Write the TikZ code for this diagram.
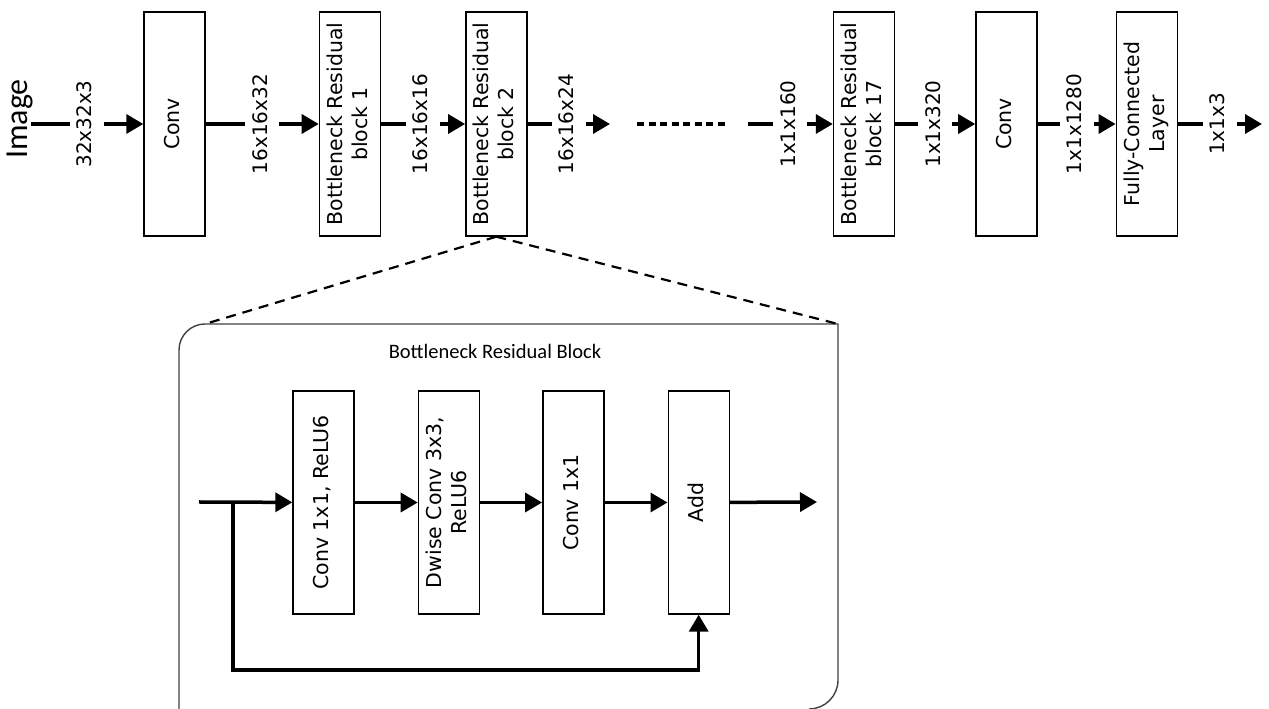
\documentclass[tikz,border=0pt]{standalone}
\usepackage{fontspec}
\setmainfont{DejaVu Sans}
\newfontfamily\calib{Carlito}
\usepackage{graphicx}
\usetikzlibrary{arrows.meta,positioning}
\newcommand{\vlab}[1]{\rotatebox{90}{\begin{tabular}{@{}c@{}}#1\end{tabular}}}

\begin{document}
\begin{tikzpicture}[x=1pt,y=1pt,>={Triangle[length=17pt,width=19pt]},
	every node/.style={font=\fontsize{20.5}{25}\selectfont},
	layer/.style={draw,line width=1.4pt,inner sep=0pt,minimum width=61pt,minimum height=224pt},
	sublayer/.style={layer,minimum height=223pt},
	dim/.style={fill=white,inner sep=5pt,font=\fontsize{20}{24}\selectfont},
	flow/.style={line width=3.5pt},
	zoomline/.style={line width=2.2pt,dash pattern=on 10pt off 7pt}]
		\useasboundingbox (0,0) rectangle (1269,709);

		\node[font=\calib\fontsize{32}{36}\selectfont] (img) at (20,590) {\rotatebox{90}{Image}};
		\coordinate (in0) at (31,585);
		\node[layer] (conv) at (174.5,585) {\vlab{Conv}};
		\node[layer] (brb1) [right=113pt of conv] {\vlab{Bottleneck Residual\\block 1}};
		\node[layer] (brb2) [right=84pt of brb1] {\vlab{Bottleneck Residual\\block 2}};
		\coordinate (out2) at (610,585);
		\coordinate (dot1) at (637,585);
		\coordinate (dot2) at (728,585);
		\coordinate (in17) at (748,585);
		\node[layer] (brb17) at (864,585) {\vlab{Bottleneck Residual\\block 17}};
		\node[layer] (conv2) [right=80pt of brb17] {\vlab{Conv}};
		\node[layer] (fc) [right=78pt of conv2] {\vlab{Fully-Connected\\Layer}};
		\coordinate (out) at (1262,585);

		\path[flow,->]
		(in0) edge node[dim] {\vlab{32x32x3}} (conv)
		(conv) edge node[dim] {\vlab{16x16x32}} (brb1)
		(brb1) edge node[dim] {\vlab{16x16x16}} (brb2)
		(brb2) edge node[dim] {\vlab{16x16x24}} (out2)
		(in17) edge node[dim] {\vlab{1x1x160}} (brb17)
		(brb17) edge node[dim] {\vlab{1x1x320}} (conv2)
		(conv2) edge node[dim] {\vlab{1x1x1280}} (fc)
		(fc) edge node[dim] {\vlab{1x1x3}} (out)
		;
		\draw[flow,dash pattern=on 7pt off 4.5pt] (dot1) -- (dot2);

		\coordinate (frtl) at (205,385);
		\coordinate (frtr) at (838,385);
		\draw[line width=1.4pt,black!75] (179,0) -- (179,359) arc[start angle=180,end angle=90,radius=26]
			-- (frtr) -- (838,29) arc[start angle=0,end angle=-90,radius=29];
		\draw[zoomline] (brb2.south) -- (frtl);
		\draw[zoomline] (brb2.south) -- (frtr);
		\node[font=\calib\fontsize{20.5}{24}\selectfont] (title) at (495,358) {Bottleneck Residual Block};

		\node[sublayer] (expand) at (323.5,206.5) {\vlab{Conv 1x1, ReLU6}};
		\node[sublayer] (dwise) [right=63pt of expand] {\vlab{Dwise Conv 3x3,\\ReLU6}};
		\node[sublayer] (project) [right=62pt of dwise] {\vlab{Conv 1x1}};
		\node[sublayer] (add) [right=63pt of project] {\vlab{Add}};
		\coordinate (blkin) at (199,207);
		\coordinate (split) at (233,207);
		\coordinate (bend) at (233,39);
		\coordinate (blkout) at (817,207);

		\path[flow,->]
		(blkin) edge (expand)
		(expand) edge (dwise)
		(dwise) edge (project)
		(project) edge (add)
		(add) edge (blkout)
		;
		\draw[flow,->] (split) -- (bend) -| (add.south);
	\end{tikzpicture}
\end{document}
